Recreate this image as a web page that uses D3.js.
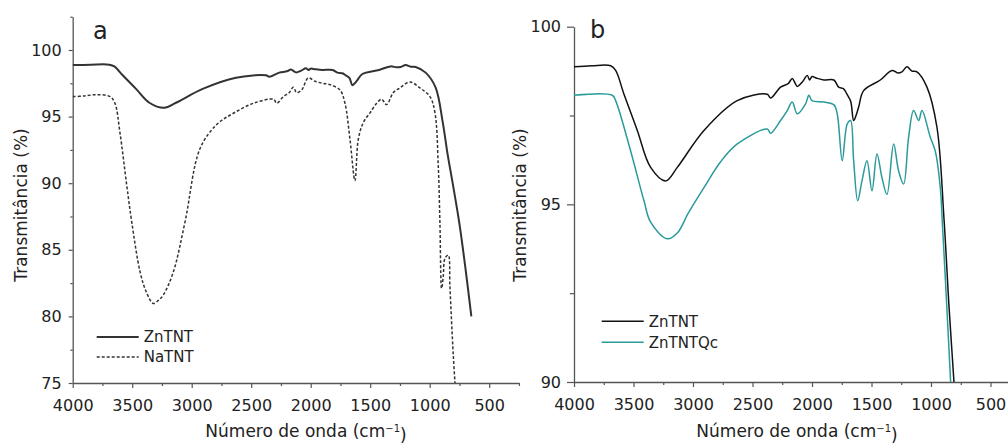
<!DOCTYPE html>
<html>
<head>
<meta charset="utf-8">
<script src="https://cdn.jsdelivr.net/npm/d3@7"></script>
<style>
  body { margin: 0; background: #fff; }
  text { font-family: "DejaVu Sans", sans-serif; fill: #222; }
</style>
</head>
<body>
<div id="chart"></div>
<script>
// ---- data ----
// ZnTNT (same spectrum in both panels)
const znWn = [4000, 3850, 3692, 3650, 3580, 3468, 3356, 3230, 3132, 2908, 2628, 2376, 2348, 2264, 2200, 2166, 2140, 2124, 2080, 2040, 2020, 2000, 1960, 1900, 1816, 1776, 1734, 1706, 1675, 1650, 1630, 1608, 1566, 1426, 1328, 1280, 1244, 1202, 1160, 1118, 1034, 950, 891, 850, 807, 751, 703, 650];
const znT  = [98.87, 98.9, 98.9, 98.77, 98.1, 97.08, 96.04, 95.66, 96.04, 97.08, 97.92, 98.1, 97.99, 98.3, 98.4, 98.54, 98.4, 98.32, 98.45, 98.63, 98.5, 98.6, 98.55, 98.5, 98.5, 98.3, 98.25, 98.1, 97.9, 97.36, 97.5, 97.74, 98.2, 98.5, 98.77, 98.7, 98.73, 98.87, 98.75, 98.73, 98.3, 97.17, 94.6, 92.2, 90.0, 87.0, 83.85, 80.0];

// NaTNT (panel a, dashed)
const naWn = [4000, 3900, 3798, 3686, 3645, 3603, 3546, 3504, 3434, 3380, 3323, 3280, 3239, 3154, 3056, 2930, 2790, 2650, 2481, 2313, 2285, 2230, 2180, 2146, 2118, 2076, 2020, 1964, 1900, 1838, 1754, 1712, 1670, 1628, 1600, 1558, 1500, 1446, 1404, 1362, 1306, 1250, 1166, 1082, 998, 956, 928, 914, 900, 886, 872, 844, 830, 802, 780];
const naT  = [96.5, 96.55, 96.65, 96.5, 96.0, 93.8, 89.85, 87.1, 83.35, 81.8, 80.97, 81.2, 81.6, 83.35, 87.1, 92.6, 94.4, 95.25, 96.0, 96.3, 96.0, 96.5, 96.8, 97.2, 96.8, 97.0, 97.9, 97.65, 97.5, 97.4, 97.0, 96.0, 93.3, 90.2, 93.3, 94.55, 95.3, 96.0, 96.3, 95.9, 96.8, 97.15, 97.6, 97.15, 96.5, 95.3, 91.3, 87.0, 82.1, 83.0, 84.35, 84.6, 82.2, 77.1, 74.0];

// ZnTNTQc (panel b, teal)
const qcWn = [4000, 3678, 3650, 3524, 3412, 3356, 3216, 3130, 3040, 2908, 2768, 2628, 2376, 2348, 2264, 2208, 2166, 2124, 2054, 2026, 2000, 1900, 1816, 1788, 1746, 1704, 1676, 1650, 1616, 1580, 1538, 1496, 1454, 1412, 1370, 1314, 1272, 1230, 1188, 1146, 1104, 1076, 1006, 964, 922, 905, 870, 835, 815];
const qcT  = [98.07, 98.07, 97.92, 96.5, 95.1, 94.5, 94.03, 94.2, 94.75, 95.47, 96.2, 96.7, 97.12, 97.0, 97.36, 97.64, 97.88, 97.55, 97.83, 98.07, 97.92, 97.88, 97.8, 97.55, 96.23, 97.26, 97.36, 96.23, 95.1, 95.66, 96.23, 95.38, 96.42, 95.75, 95.28, 96.7, 95.94, 95.57, 96.89, 97.64, 97.36, 97.64, 96.89, 96.5, 95.47, 94.5, 92.3, 90.0, 88.7];

// ticks
const xTicks = [4000, 3500, 3000, 2500, 2000, 1500, 1000, 500];
const xMinor = [3750, 3250, 2750, 2250, 1750, 1250, 750, 250];
const yTicksA = [75, 80, 85, 90, 95, 100];
const yMinorA = [77.5, 82.5, 87.5, 92.5, 97.5, 102.5];
const yTicksB = [90, 95, 100];
const yMinorB = [92.5, 97.5];

const W = 1008, H = 445;
const AXIS = "#555";

const svg = d3.select("#chart").append("svg")
  .attr("width", W)
  .attr("height", H);

function toPts(wn, t) {
  return wn.map((w, i) => ({ w: w, t: t[i] }));
}

function drawPanel(p) {
  const x = d3.scaleLinear().domain([4000, 250]).range([p.left, p.left + 7.5 * 59.5]);
  const y = d3.scaleLinear().domain(p.yDomain).range([p.bottom, p.top]);

  const g = svg.append("g");

  // clip to plot area
  svg.append("clipPath").attr("id", p.id + "-clip")
    .append("rect")
    .attr("x", p.left).attr("y", p.top)
    .attr("width", x.range()[1] - p.left)
    .attr("height", p.bottom - p.top);

  // minor ticks
  g.append("g")
    .attr("transform", `translate(0,${p.bottom})`)
    .call(d3.axisBottom(x).tickValues(xMinor).tickSize(3).tickFormat(""))
    .call(a => a.select(".domain").remove())
    .call(a => a.selectAll("line").attr("stroke", AXIS).attr("stroke-width", 1.2));
  g.append("g")
    .attr("transform", `translate(${p.left},0)`)
    .call(d3.axisLeft(y).tickValues(p.yMinor).tickSize(p.yTick * 0.6).tickFormat(""))
    .call(a => a.select(".domain").remove())
    .call(a => a.selectAll("line").attr("stroke", AXIS).attr("stroke-width", 1.2));

  // x axis
  g.append("g")
    .attr("transform", `translate(0,${p.bottom})`)
    .call(d3.axisBottom(x).tickValues(xTicks).tickSize(5).tickSizeOuter(0).tickPadding(12).tickFormat(d3.format("d")))
    .call(a => a.select(".domain").attr("stroke", AXIS).attr("stroke-width", 1.3))
    .call(a => a.selectAll("line").attr("stroke", AXIS).attr("stroke-width", 1.2))
    .call(a => a.selectAll("text").style("font-size", "16px").attr("fill", "#222")
      .style("font-family", '"DejaVu Sans", sans-serif'));

  // y axis
  g.append("g")
    .attr("transform", `translate(${p.left},0)`)
    .call(d3.axisLeft(y).tickValues(p.yTicks).tickSize(p.yTick).tickSizeOuter(0).tickPadding(p.yPad))
    .call(a => a.select(".domain").attr("stroke", AXIS).attr("stroke-width", 1.3))
    .call(a => a.selectAll("line").attr("stroke", AXIS).attr("stroke-width", 1.2))
    .call(a => a.selectAll("text").style("font-size", "16px").attr("fill", "#222")
      .style("font-family", '"DejaVu Sans", sans-serif'));

  const line = d3.line()
    .curve(d3.curveCatmullRom.alpha(0.5))
    .x(d => x(d.w)).y(d => y(d.t));

  const lines = g.append("g").attr("clip-path", `url(#${p.id}-clip)`);
  p.series.forEach(s => {
    lines.append("path")
      .datum(toPts(s.wn, s.t))
      .attr("fill", "none")
      .attr("stroke", s.color)
      .attr("stroke-width", s.width)
      .attr("stroke-dasharray", s.dash || null)
      .attr("stroke-linejoin", "round")
      .attr("d", line);
  });

  // legend
  p.series.forEach((s, i) => {
    const ly = p.legY + i * p.legGap;
    g.append("line")
      .attr("x1", p.legX).attr("x2", p.legX + 42)
      .attr("y1", ly).attr("y2", ly)
      .attr("stroke", s.color)
      .attr("stroke-width", s.width)
      .attr("stroke-dasharray", s.dash || null);
    g.append("text")
      .attr("x", p.legX + 47).attr("y", ly)
      .attr("dy", "0.36em")
      .style("font-size", "15px")
      .text(s.name);
  });

  // panel letter
  g.append("text")
    .attr("x", p.letterX).attr("y", p.letterY)
    .style("font-size", "24px")
    .text(p.letter);

  // axis titles
  const xt = g.append("text")
    .attr("x", p.xTitleX).attr("y", 437)
    .attr("text-anchor", "middle")
    .style("font-size", "17px")
    .text("Número de onda (cm");
  xt.append("tspan").attr("dy", "-0.5em").style("font-size", "10px").text("−1");
  xt.append("tspan").attr("dy", "0.5em").text(")");

  g.append("text")
    .attr("transform", `translate(${p.yTitleX},205) rotate(-90)`)
    .attr("text-anchor", "middle")
    .style("font-size", "17px")
    .text("Transmitância (%)");
}

drawPanel({
  id: "pa", letter: "a", letterX: 93, letterY: 39,
  left: 72.7, top: 16.7, bottom: 383,
  yDomain: [75, 102.5], yTicks: yTicksA, yMinor: yMinorA, yTick: 4, yPad: 7,
  xTitleX: 306, yTitleX: 26.5,
  legX: 96.7, legY: 337, legGap: 20,
  series: [
    { name: "ZnTNT", wn: znWn, t: znT, color: "#333", width: 2 },
    { name: "NaTNT", wn: naWn, t: naT, color: "#333", width: 1.5, dash: "3,2" }
  ]
});

drawPanel({
  id: "pb", letter: "b", letterX: 590, letterY: 38,
  left: 574, top: 26.7, bottom: 382,
  yDomain: [90, 100], yTicks: yTicksB, yMinor: yMinorB, yTick: 7, yPad: 6,
  xTitleX: 797, yTitleX: 526,
  legX: 601.7, legY: 321.3, legGap: 21,
  series: [
    { name: "ZnTNT", wn: znWn, t: znT, color: "#111", width: 1.5 },
    { name: "ZnTNTQc", wn: qcWn, t: qcT, color: "#2a9a9a", width: 1.5 }
  ]
});
</script>
</body>
</html>
